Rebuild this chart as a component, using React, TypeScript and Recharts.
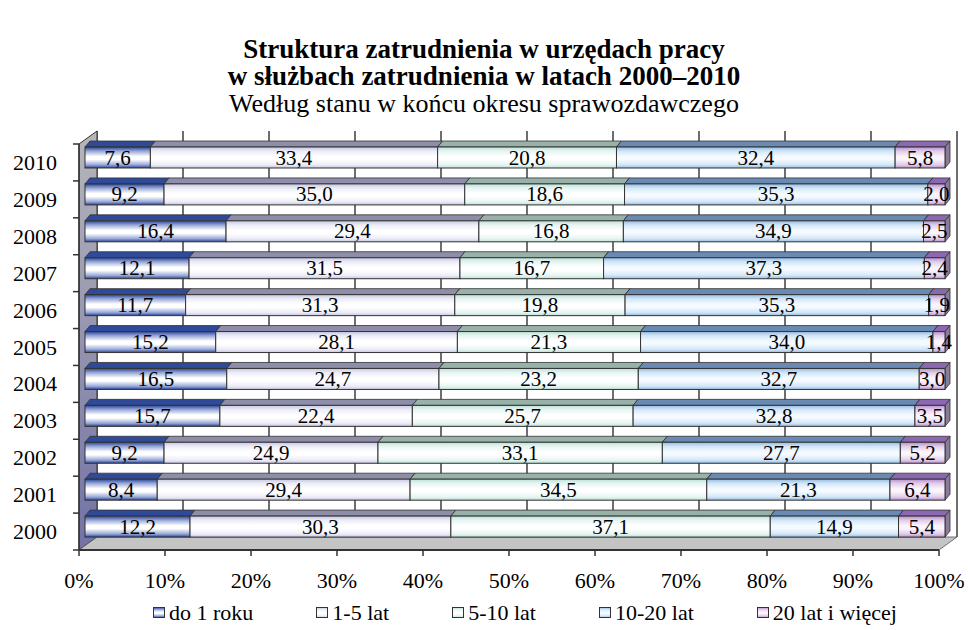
import React from 'react';
import { BarChart, Bar, XAxis, YAxis, LabelList } from 'recharts';

const years = ['2010', '2009', '2008', '2007', '2006', '2005', '2004', '2003', '2002', '2001', '2000'];
const doRoku = [7.6, 9.2, 16.4, 12.1, 11.7, 15.2, 16.5, 15.7, 9.2, 8.4, 12.2];
const lat1to5 = [33.4, 35.0, 29.4, 31.5, 31.3, 28.1, 24.7, 22.4, 24.9, 29.4, 30.3];
const lat5to10 = [20.8, 18.6, 16.8, 16.7, 19.8, 21.3, 23.2, 25.7, 33.1, 34.5, 37.1];
const lat10to20 = [32.4, 35.3, 34.9, 37.3, 35.3, 34.0, 32.7, 32.8, 27.7, 21.3, 14.9];
const lat20plus = [5.8, 2.0, 2.5, 2.4, 1.9, 1.4, 3.0, 3.5, 5.2, 6.4, 5.4];
const seriesNames = ['do 1 roku', '1-5 lat', '5-10 lat', '10-20 lat', '20 lat i więcej'];
const xTicks = [0, 0.1, 0.2, 0.3, 0.4, 0.5, 0.6, 0.7, 0.8, 0.9, 1];

const seriesValues = [doRoku, lat1to5, lat5to10, lat10to20, lat20plus];
const data = years.map((year, i) => {
  const row: any = { year };
  seriesValues.forEach((vals, s) => { row['s' + s] = vals[i]; });
  return row;
});

// look of the pseudo-3d bars
const STYLES = [
  { edge: '#2a4696', mid: '#ffffff', soft: '#98a8d8', top: '#2f4a98', side: '#223c82' },
  { edge: '#c6c6e0', mid: '#ffffff', soft: '#ececf8', top: '#8e8eaa', side: '#8a8aa4' },
  { edge: '#bedfd8', mid: '#ffffff', soft: '#e6f5f2', top: '#98b2aa', side: '#8aa49c' },
  { edge: '#94bce0', mid: '#f4faff', soft: '#d2e6f8', top: '#6a8ab4', side: '#5e7aa0' },
  { edge: '#b490ca', mid: '#faf4fc', soft: '#e2ccea', top: '#8c68b2', side: '#8a7a9c' },
];

const W = 968;
const H = 630;
const LEFT = 79;
const RIGHT = 939;
const TOP = 144;
const BOTTOM = 550;
const DEPTH_X = 18;
const DEPTH_Y = -13;
// front face of the bars sits a bit inside the depth
const FX = 6;
const FY = -5;
const BX = 5;
const BY = -6;
const SERIF = '"Liberation Serif", "Times New Roman", serif';
const INK = '#333';

const makeShape = (s: number) => (props: any) => {
  const { width, height } = props;
  if (!width || !height) return <g />;
  const x = props.x + FX;
  const y = props.y + FY;
  const st = STYLES[s];
  return (
    <g>
      <polygon
        points={`${x},${y} ${x + BX},${y + BY} ${x + width + BX},${y + BY} ${x + width},${y}`}
        fill={st.top}
        stroke={INK}
        strokeWidth={0.8}
      />
      <polygon
        points={`${x + width},${y} ${x + width + BX},${y + BY} ${x + width + BX},${y + height + BY} ${x + width},${y + height}`}
        fill={st.side}
        stroke={INK}
        strokeWidth={0.8}
      />
      <rect x={x} y={y} width={width} height={height} fill={`url(#grad${s})`} stroke={INK} strokeWidth={1} />
    </g>
  );
};

const renderLabel = (props: any) => {
  const box = props.viewBox && props.viewBox.width != null ? props.viewBox : props;
  const { x, y, width, height } = box;
  const v = Number(props.value);
  if (isNaN(v)) return null;
  return (
    <text
      x={x + width / 2 + FX}
      y={y + height / 2 + FY}
      textAnchor="middle"
      dominantBaseline="central"
      fontFamily={SERIF}
      fontSize={21}
      fill="#000"
    >
      {v.toFixed(1).replace('.', ',')}
    </text>
  );
};

const YearTick = (props: any) => {
  const { x, y, payload } = props;
  const half = (BOTTOM - TOP) / years.length / 2;
  const last = payload.value === years[years.length - 1];
  return (
    <g>
      <line x1={x - 6} x2={x} y1={y - half} y2={y - half} stroke={INK} strokeWidth={1.5} />
      {last && <line x1={x - 6} x2={x} y1={y + half} y2={y + half} stroke={INK} strokeWidth={1.5} />}
      <text x={x - 22} y={y} textAnchor="end" dominantBaseline="central" fontFamily={SERIF} fontSize={22} fill="#000">
        {payload.value}
      </text>
    </g>
  );
};

const Walls = () => {
  const step = (RIGHT - LEFT) / (xTicks.length - 1);
  return (
    <svg width={W} height={H} style={{ position: 'absolute', left: 0, top: 0 }}>
      <defs>
        {STYLES.map((st, i) => (
          <linearGradient key={i} id={`grad${i}`} x1="0" y1="0" x2="0" y2="1">
            <stop offset="0" stopColor={st.edge} />
            <stop offset="0.2" stopColor={st.soft} />
            <stop offset="0.45" stopColor={st.mid} />
            <stop offset="0.6" stopColor={st.mid} />
            <stop offset="0.85" stopColor={st.soft} />
            <stop offset="1" stopColor={st.edge} />
          </linearGradient>
        ))}
        <linearGradient id="wallGrad" x1="0" y1="0" x2="0" y2="1">
          <stop offset="0" stopColor="#b6b6ba" />
          <stop offset="1" stopColor="#7272a6" />
        </linearGradient>
      </defs>
      {xTicks.map((t, i) => (
        <line
          key={t}
          x1={LEFT + i * step + DEPTH_X}
          x2={LEFT + i * step + DEPTH_X}
          y1={TOP + DEPTH_Y}
          y2={BOTTOM + DEPTH_Y}
          stroke="#4a4a4a"
          strokeWidth={1.6}
        />
      ))}
      <polygon
        points={`${LEFT},${TOP} ${LEFT + DEPTH_X},${TOP + DEPTH_Y} ${LEFT + DEPTH_X},${BOTTOM + DEPTH_Y} ${LEFT},${BOTTOM}`}
        fill="url(#wallGrad)"
        stroke={INK}
        strokeWidth={1}
      />
      <polygon
        points={`${LEFT},${BOTTOM} ${RIGHT},${BOTTOM} ${RIGHT + DEPTH_X},${BOTTOM + DEPTH_Y} ${LEFT + DEPTH_X},${BOTTOM + DEPTH_Y}`}
        fill="#c4c4c4"
        stroke="#555"
        strokeWidth={0.8}
      />
    </svg>
  );
};

const Legend = () => (
  <div
    style={{
      position: 'absolute',
      left: 153,
      top: 600,
      display: 'flex',
      gap: 63,
      fontFamily: SERIF,
      fontSize: 22,
      lineHeight: '26px',
      whiteSpace: 'nowrap',
    }}
  >
    {seriesNames.map((name, i) => (
      <div key={name} style={{ display: 'flex', alignItems: 'center' }}>
        <svg width={13} height={12} style={{ marginRight: 3 }}>
          <rect x={0.5} y={0.5} width={11} height={10} fill={`url(#grad${i})`} stroke={INK} strokeWidth={1} />
        </svg>
        <span>{name}</span>
      </div>
    ))}
  </div>
);

export default function App() {
  return (
    <div style={{ position: 'absolute', left: 0, top: 0, width: W, height: H, background: '#fff', overflow: 'hidden' }}>
      <div
        style={{
          position: 'absolute',
          left: 0,
          top: 36,
          width: W,
          textAlign: 'center',
          fontFamily: SERIF,
          fontSize: 26,
          lineHeight: '27px',
          color: '#000',
        }}
      >
        <div style={{ fontWeight: 'bold', fontSize: 27 }}>Struktura zatrudnienia w urzędach pracy</div>
        <div style={{ fontWeight: 'bold', fontSize: 27 }}>w służbach zatrudnienia w latach 2000–2010</div>
        <div>Według stanu w końcu okresu sprawozdawczego</div>
      </div>
      <Walls />
      <div style={{ position: 'absolute', left: 0, top: 0 }}>
        <BarChart
          width={W}
          height={H}
          data={data}
          layout="vertical"
          stackOffset="expand"
          barSize={21}
          margin={{ top: TOP, right: W - RIGHT, bottom: 40, left: 0 }}
        >
          <XAxis
            type="number"
            domain={[0, 1]}
            ticks={xTicks}
            tickFormatter={(v: number) => `${Math.round(v * 100)}%`}
            axisLine={{ stroke: INK, strokeWidth: 2 }}
            tickLine={{ stroke: INK, strokeWidth: 1.5 }}
            tickSize={6}
            tickMargin={16}
            height={H - BOTTOM - 40}
            tick={{ fill: '#000', fontFamily: SERIF, fontSize: 22 }}
          />
          <YAxis
            type="category"
            dataKey="year"
            width={LEFT}
            axisLine={{ stroke: INK, strokeWidth: 1.5 }}
            tickLine={false}
            tickSize={0}
            tickMargin={0}
            tick={<YearTick />}
          />
          {seriesNames.map((name, i) => (
            <Bar
              key={name}
              dataKey={'s' + i}
              name={name}
              stackId="a"
              isAnimationActive={false}
              shape={makeShape(i)}
            >
              <LabelList dataKey={'s' + i} content={renderLabel} />
            </Bar>
          ))}
        </BarChart>
      </div>
      <Legend />
    </div>
  );
}
